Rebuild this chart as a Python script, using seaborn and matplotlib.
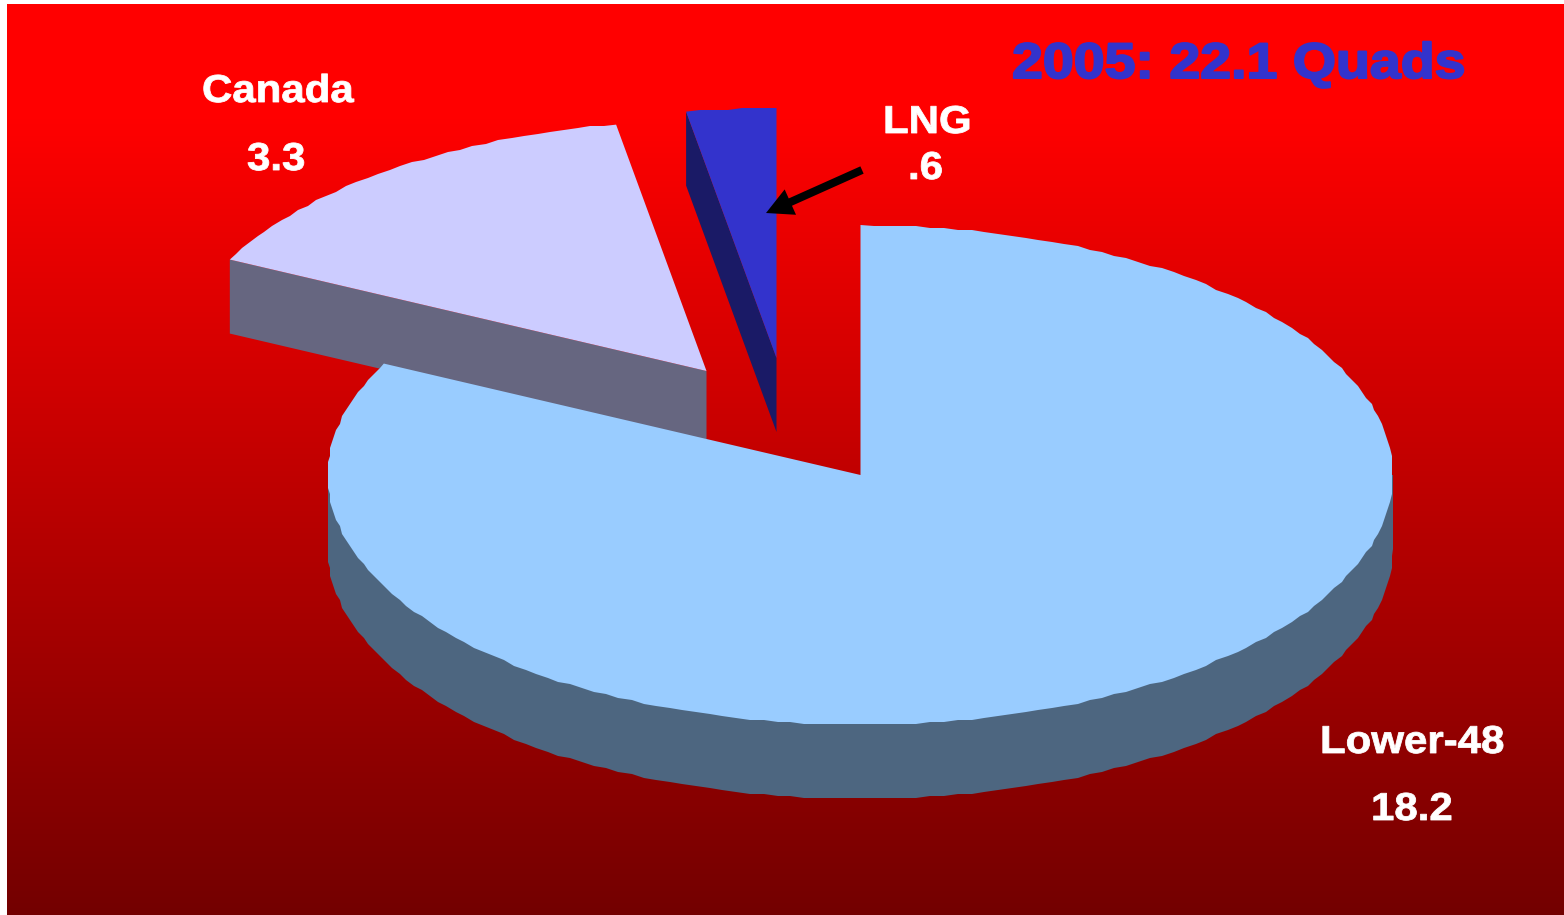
import matplotlib.pyplot as plt
import matplotlib.patheffects as pe
from matplotlib.transforms import Affine2D
import numpy as np
import seaborn as sns

# Natural gas supply, quads
SOURCES = ["Lower-48", "Canada", "LNG"]
VALUES = [18.2, 3.3, 0.6]
VALUE_LABELS = ["18.2", "3.3", ".6"]
TITLE = "2005: 22.1 Quads"

TOP_COLORS = sns.color_palette(["#99CCFF", "#CCCCFF", "#3333CC"])
SIDE_COLORS = sns.color_palette(["#4D6680", "#666680", "#1A1A66"])

# Pie layout in image pixels
CX, CY = 860.5, 475
RX, RY = 532.5, 250
DEPTH = 74
EXPLODE = {"Lower-48": (0, 0), "Canada": (-154, -104), "LNG": (-84, -117)}

sns.set_theme(style="white")
plt.rcParams["font.family"] = ["Liberation Sans", "DejaVu Sans"]
plt.rcParams["font.weight"] = "bold"


class WideText(pe.AbstractPathEffect):
    # the original text is stretched sideways and a bit heavier than Arial Bold
    def __init__(self, stretch, stroke, color):
        super().__init__()
        self.stretch = stretch
        self.stroke = stroke
        self.color = color

    def draw_path(self, renderer, gc, tpath, affine, rgbFace=None):
        gc0 = renderer.new_gc()
        gc0.copy_properties(gc)
        gc0.set_foreground(self.color)
        gc0.set_linewidth(self.stroke)
        wide = Affine2D().scale(self.stretch, 1) + affine
        renderer.draw_path(gc0, tpath, wide, rgbFace)
        gc0.restore()


def arc(start, end, dx, dy):
    # clockwise from 12 o'clock, stepped a bit like the low-res original
    t = np.radians(np.arange(start, end, 1.5))
    t = np.append(t, np.radians(end))
    x = dx + CX + RX * np.sin(t)
    y = dy + CY - RY * np.cos(t)
    x[1:-1] = np.round(x[1:-1] / 2) * 2
    y[1:-1] = np.round(y[1:-1] / 2) * 2
    return x, y


fig = plt.figure(figsize=(15.64, 9.15), dpi=100)
ax = fig.add_axes([0, 0, 1, 1])
ax.axis("off")

# Background gradient, red to dark red
rows = np.arange(4, 915)
red = np.clip(255 - (rows - 118) * 0.176, 0, 255) / 255
grad = np.zeros((len(rows), 1, 3))
grad[:, 0, 0] = red
ax.imshow(grad, extent=(7, 1564, 915, 4), aspect="auto", zorder=0)
ax.set_xlim(0, 1564)
ax.set_ylim(915, 0)

# Wedges
angles = np.cumsum([0] + VALUES) / sum(VALUES) * 360
for i in [1, 2, 0]:
    name = SOURCES[i]
    dx, dy = EXPLODE[name]
    start, end = angles[i], angles[i + 1]
    x, y = arc(start, end, dx, dy)
    apex_x, apex_y = CX + dx, CY + dy

    if name == "Lower-48":
        # outer wall, only the front half of the ellipse shows
        sx, sy = arc(90, 270, dx, dy)
        ax.fill(
            np.r_[sx[0], sx, sx[-1]],
            np.r_[CY, sy + DEPTH, CY],
            color=SIDE_COLORS[i],
            lw=0,
            zorder=2,
        )
    else:
        # cut face on the left side of the slice
        ax.fill(
            [apex_x, x[0], x[0], apex_x],
            [apex_y, y[0], y[0] + DEPTH, apex_y + DEPTH],
            color=SIDE_COLORS[i],
            lw=0,
            zorder=1,
        )

    ax.fill(
        np.r_[apex_x, x],
        np.r_[apex_y, y],
        color=TOP_COLORS[i],
        lw=0,
        zorder=3,
    )

# Labels
white_text = dict(
    color="white",
    fontsize=28,
    ha="left",
    va="baseline",
    zorder=5,
    path_effects=[WideText(1.08, 0.6, "white")],
)
ax.text(202, 102, SOURCES[1], **white_text)
ax.text(247, 170, VALUE_LABELS[1], **white_text)
ax.text(883, 133, SOURCES[2], **white_text)
ax.text(908, 179, VALUE_LABELS[2], **white_text)
ax.text(1320, 753, SOURCES[0], **white_text)
ax.text(1371, 820, VALUE_LABELS[0], **white_text)

ax.text(
    1012,
    78,
    TITLE,
    color="#3333CC",
    fontsize=36,
    ha="left",
    va="baseline",
    zorder=5,
    path_effects=[WideText(1.11, 1.5, "#3333CC")],
)

# Arrow to the LNG slice
ax.annotate(
    "",
    xy=(766, 213),
    xytext=(862, 170),
    arrowprops=dict(
        arrowstyle="simple,head_length=1.2,head_width=1.25,tail_width=0.36",
        mutation_scale=16,
        color="black",
        lw=0,
        shrinkA=0,
        shrinkB=0,
    ),
    zorder=6,
)

fig.savefig("out.png", dpi=100, facecolor="white")
